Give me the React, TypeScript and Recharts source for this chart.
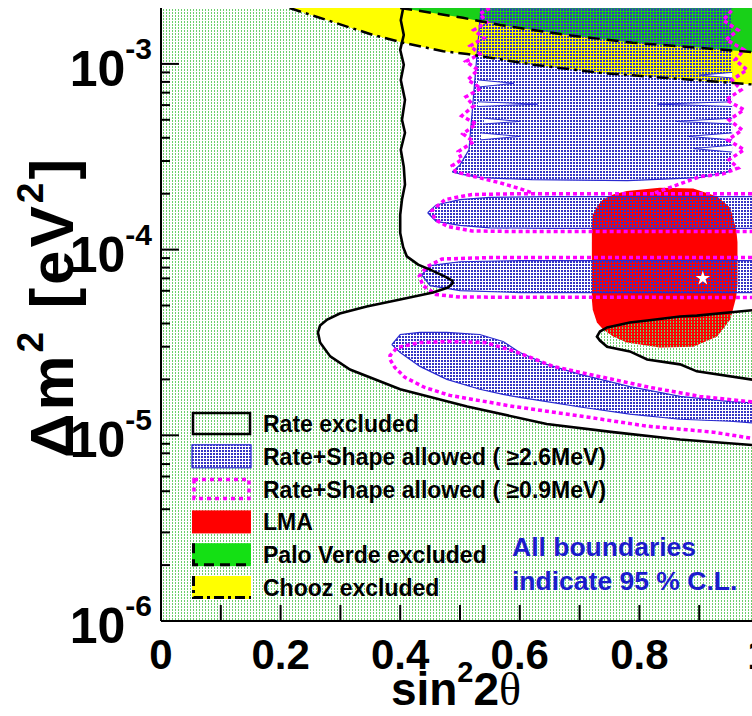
import React from 'react';
import { ComposedChart, Area, Line, XAxis, YAxis, Scatter } from 'recharts';

type R3 = [number, number, number];
type R2 = [number, number];

const Y_MIN = 1e-6;
const Y_MAX = 2e-3;

const X_TICKS = [0, 0.1, 0.2, 0.3, 0.4, 0.5, 0.6, 0.7, 0.8, 0.9, 1];
const X_TICK_LABELS = ['0', '0.2', '0.4', '0.6', '0.8', '1'];
const Y_DECADES = [1e-6, 1e-5, 1e-4, 1e-3];
const Y_DECADE_EXP = ['-6', '-5', '-4', '-3'];
const Y_MINOR_STEPS = [1, 2, 3, 4, 5, 6, 7, 8, 9];

const LEGEND_LABELS = [
  'Rate excluded',
  'Rate+Shape allowed ( \u22652.6MeV)',
  'Rate+Shape allowed ( \u22650.9MeV)',
  'LMA',
  'Palo Verde excluded',
  'Chooz excluded',
];
const NOTE_LINES = ['All boundaries', 'indicate 95 % C.L.'];

// [sin^2 2theta, dm2 low, dm2 high]
const BACKGROUND: R3[] = [[0, 1e-6, 2e-3], [1, 1e-6, 2e-3]];

const RATE_ALLOWED_MAIN: R3[] = [
  [0.2625, 3.58e-5, 3.58e-5], [0.265, 3.24e-5, 3.9e-5], [0.28, 2.73e-5, 4.23e-5],
  [0.3, 2.44e-5, 4.53e-5], [0.33, 2.17e-5, 4.8e-5], [0.36, 1.99e-5, 5.06e-5],
  [0.4, 1.77e-5, 5.38e-5], [0.43, 1.67e-5, 5.64e-5], [0.46, 1.58e-5, 5.94e-5],
  [0.488, 1.5e-5, 6.65e-5], [0.4885, 1.5e-5, 2e-3], [0.52, 1.41e-5, 2e-3],
  [0.6, 1.24e-5, 2e-3], [0.7, 1.09e-5, 2e-3], [0.8, 1.0e-5, 2e-3],
  [0.9, 9.4e-6, 2e-3], [1.0, 8.8e-6, 2e-3],
];
const RATE_ALLOWED_UPPER: R3[] = [
  [0.403, 1.08e-4, 2e-3], [0.411, 9.2e-5, 2e-3], [0.43, 8.3e-5, 2e-3],
  [0.45, 7.8e-5, 2e-3], [0.475, 7.16e-5, 2e-3], [0.4885, 6.6e-5, 2e-3],
];
const RATE_POCKET: R3[] = [
  [0.729, 3.4e-5, 3.4e-5], [0.734, 3.24e-5, 3.62e-5], [0.746, 3.0e-5, 3.81e-5],
  [0.784, 2.83e-5, 4.05e-5], [0.813, 2.56e-5, 4.15e-5], [0.868, 2.41e-5, 4.36e-5],
  [0.896, 2.21e-5, 4.41e-5], [1.0, 1.97e-5, 4.75e-5],
];
const RATE_LINE: R2[] = [
  [0.405, 2.0e-3], [0.401, 1.72e-3], [0.406, 1.43e-3], [0.4, 1.19e-3], [0.406, 9.9e-4],
  [0.401, 8.2e-4], [0.408, 6.4e-4], [0.403, 5.0e-4], [0.408, 4.26e-4], [0.401, 3.45e-4],
  [0.406, 2.79e-4], [0.408, 2.24e-4], [0.403, 1.86e-4], [0.4, 1.54e-4], [0.4, 1.23e-4],
  [0.405, 1.03e-4], [0.411, 9.2e-5], [0.43, 8.3e-5], [0.45, 7.8e-5], [0.475, 7.16e-5],
  [0.487, 6.8e-5], [0.488, 6.6e-5], [0.48, 6.25e-5], [0.455, 5.87e-5], [0.4, 5.38e-5],
  [0.344, 4.94e-5], [0.299, 4.53e-5], [0.278, 4.2e-5], [0.266, 3.9e-5], [0.2625, 3.58e-5],
  [0.266, 3.16e-5], [0.283, 2.66e-5], [0.316, 2.26e-5], [0.4, 1.77e-5], [0.512, 1.43e-5],
  [0.645, 1.15e-5], [0.756, 1.04e-5], [0.868, 9.5e-6], [1.0, 8.8e-6],
];

// excluded-region boundaries: [sin^2 2theta, dm2]
const CHOOZ: R2[] = [
  [0.215, 2.0e-3], [0.355, 1.43e-3], [0.405, 1.3e-3], [0.472, 1.17e-3], [0.512, 1.13e-3],
  [0.622, 9.9e-4], [0.734, 8.95e-4], [0.846, 8.4e-4], [0.957, 7.9e-4], [1.0, 7.7e-4],
];
const PALO_VERDE: R2[] = [
  [0.4, 2.0e-3], [0.455, 1.88e-3], [0.505, 1.77e-3], [0.567, 1.62e-3], [0.679, 1.43e-3],
  [0.789, 1.3e-3], [0.901, 1.22e-3], [1.0, 1.15e-3],
];

const LMA: R3[] = [
  [0.7205, 5.38e-5, 1.36e-4], [0.722, 4.75e-5, 1.54e-4], [0.729, 4.05e-5, 1.7e-4],
  [0.739, 3.72e-5, 1.86e-4], [0.756, 3.4e-5, 1.98e-4], [0.779, 3.16e-5, 2.07e-4],
  [0.834, 2.97e-5, 2.15e-4], [0.89, 3.0e-5, 2.13e-4], [0.93, 3.4e-5, 1.93e-4],
  [0.952, 4.2e-5, 1.68e-4], [0.962, 5.58e-5, 1.28e-4], [0.964, 6.5e-5, 1.1e-4],
];

// Rate+Shape allowed (>= 2.6 MeV) islands
const SHAPE_A: R3[] = [
  [0.487, 2.62e-4, 2.62e-4], [0.5, 2.56e-4, 2.86e-4], [0.515, 2.5e-4, 3.45e-4],
  [0.535, 2.44e-4, 2e-3], [0.62, 2.38e-4, 2e-3], [0.78, 2.35e-4, 2e-3],
  [0.9, 2.44e-4, 2e-3], [0.945, 2.6e-4, 2e-3], [0.955, 2.66e-4, 2e-3],
];
const SHAPE_B: R3[] = [
  [0.446, 1.58e-4, 1.58e-4], [0.46, 1.42e-4, 1.74e-4], [0.5, 1.35e-4, 1.86e-4],
  [0.55, 1.31e-4, 1.91e-4], [0.65, 1.3e-4, 1.93e-4], [1.0, 1.3e-4, 1.93e-4],
];
const SHAPE_C: R3[] = [
  [0.436, 7.3e-5, 7.3e-5], [0.45, 6.4e-5, 8.2e-5], [0.5, 6.02e-5, 8.6e-5],
  [0.6, 5.87e-5, 8.73e-5], [1.0, 5.87e-5, 8.73e-5],
];
const SHAPE_D: R3[] = [
  [0.386, 3.08e-5, 3.08e-5], [0.4, 2.79e-5, 3.49e-5], [0.433, 2.35e-5, 3.58e-5],
  [0.478, 2.0e-5, 3.58e-5], [0.533, 1.77e-5, 3.49e-5], [0.572, 1.66e-5, 3.2e-5],
  [0.6, 1.6e-5, 2.79e-5], [0.645, 1.52e-5, 2.41e-5], [0.701, 1.42e-5, 2.13e-5],
  [0.784, 1.3e-5, 1.83e-5], [0.868, 1.22e-5, 1.62e-5], [0.952, 1.19e-5, 1.52e-5],
  [1.0, 1.16e-5, 1.49e-5],
];
// thin un-allowed slivers cutting into the upper island
const SHAPE_A_GAPS: R3[][] = [
  [[0.53, 7.5e-4, 8.2e-4], [0.59, 7.86e-4, 7.86e-4]],
  [[0.53, 5.9e-4, 6.25e-4], [0.63, 6.07e-4, 6.07e-4]],
  [[0.54, 4.75e-4, 5.1e-4], [0.6, 4.9e-4, 4.9e-4]],
  [[0.535, 3.9e-4, 4.25e-4], [0.6, 4.07e-4, 4.07e-4]],
  [[0.9, 8.7e-4, 8.7e-4], [0.955, 8.4e-4, 9.0e-4]],
  [[0.83, 6.07e-4, 6.07e-4], [0.955, 5.9e-4, 6.25e-4]],
  [[0.86, 4.9e-4, 4.9e-4], [0.955, 4.75e-4, 5.1e-4]],
  [[0.88, 4.07e-4, 4.07e-4], [0.955, 3.9e-4, 4.25e-4]],
  [[0.89, 3.5e-4, 3.5e-4], [0.955, 3.35e-4, 3.65e-4]],
];

// Rate+Shape allowed (>= 0.9 MeV) boundaries
const LOWE_A_LEFT: R2[] = [
  [0.55, 2.0e-3], [0.533, 1.86e-3], [0.545, 1.68e-3], [0.523, 1.52e-3], [0.54, 1.38e-3],
  [0.517, 1.25e-3], [0.533, 1.13e-3], [0.51, 1.03e-3], [0.53, 9.3e-4], [0.513, 8.2e-4],
  [0.535, 7.4e-4], [0.51, 6.65e-4], [0.523, 5.94e-4], [0.503, 5.25e-4], [0.527, 4.75e-4],
  [0.505, 4.2e-4], [0.523, 3.81e-4], [0.497, 3.37e-4], [0.503, 3.05e-4], [0.487, 2.83e-4],
  [0.493, 2.62e-4], [0.525, 2.47e-4], [0.567, 2.29e-4], [0.6, 2.13e-4], [0.625, 2.0e-4],
];
const LOWE_A_RIGHT: R2[] = [
  [0.826, 2.02e-4], [0.868, 2.26e-4], [0.901, 2.47e-4], [0.94, 2.56e-4], [0.965, 2.75e-4],
  [0.95, 3.05e-4], [0.975, 3.45e-4], [0.948, 3.9e-4], [0.972, 4.41e-4], [0.95, 5.0e-4],
  [0.975, 5.66e-4], [0.945, 6.4e-4], [0.97, 7.25e-4], [0.955, 8.2e-4], [0.98, 9.3e-4],
  [0.96, 1.05e-3], [0.975, 1.19e-3], [0.945, 1.35e-3], [0.965, 1.52e-3], [0.94, 1.72e-3],
  [0.955, 1.95e-3],
];
const LOWE_B: R2[] = [
  [1.0, 2.0e-4], [0.6, 2.0e-4], [0.52, 1.98e-4], [0.475, 1.86e-4], [0.453, 1.62e-4],
  [0.458, 1.45e-4], [0.48, 1.33e-4], [0.52, 1.26e-4], [0.6, 1.25e-4], [1.0, 1.25e-4],
];
const LOWE_C: R2[] = [
  [1.0, 9.06e-5], [0.55, 9.06e-5], [0.47, 8.9e-5], [0.445, 8.1e-5], [0.432, 7.2e-5],
  [0.438, 6.4e-5], [0.46, 5.73e-5], [0.5, 5.55e-5], [1.0, 5.52e-5],
];
const LOWE_D: R2[] = [
  [1.0, 1.5e-5], [0.901, 1.62e-5], [0.818, 1.81e-5], [0.734, 2.07e-5], [0.656, 2.35e-5],
  [0.592, 2.83e-5], [0.542, 3.16e-5], [0.483, 3.2e-5], [0.433, 3.16e-5], [0.395, 2.97e-5],
  [0.383, 2.69e-5], [0.383, 2.56e-5], [0.391, 2.32e-5], [0.408, 2.05e-5], [0.441, 1.81e-5],
  [0.483, 1.64e-5], [0.589, 1.43e-5], [0.701, 1.27e-5], [0.813, 1.12e-5], [0.923, 1.04e-5],
  [1.0, 9.5e-6],
];

const BEST_FIT: R2[] = [[0.906, 7.0e-5]];

// ---------- helpers building library data from the arrays ----------
const toRange = (rows: R3[]) => rows.map(([x, lo, hi]) => ({ x, r: [lo, hi] }));
const toTopRange = (rows: R2[]) => rows.map(([x, lo]) => ({ x, r: [lo, Y_MAX] }));
const toPts = (rows: R2[]) => rows.map(([x, y]) => ({ x, y }));
const rangeOutline = (rows: R3[]) =>
  toPts([...rows.slice().reverse().map(([x, , hi]) => [x, hi] as R2), ...rows.map(([x, lo]) => [x, lo] as R2)]);

const Y_TICKS = Y_DECADES.flatMap((d) => Y_MINOR_STEPS.map((m) => d * m)).filter((v) => v < Y_MAX * 0.99);

const FONT = '"Liberation Sans", Arial, Helvetica, sans-serif';
const MAGENTA = '#ff00ff';
const BLUE = '#2a2ad0';

const XTick = (p: any) => {
  const v = p.payload.value;
  const idx = X_TICKS.findIndex((t) => Math.abs(t - v) < 1e-9);
  const label = idx % 2 === 0 ? X_TICK_LABELS[idx / 2] : null;
  return (
    <g>
      <line x1={p.x} x2={p.x} y1={p.y} y2={p.y - 16} stroke="#000" strokeWidth={2} />
      {label !== null && (
        <text x={p.x} y={p.y + 48} textAnchor="middle" fontFamily={FONT} fontWeight={700} fontSize={42} fill="#000">
          {label}
        </text>
      )}
    </g>
  );
};

const YTick = (p: any) => {
  const v = p.payload.value;
  const idx = Y_DECADES.findIndex((d) => Math.abs(d - v) / d < 1e-6);
  const major = idx >= 0;
  return (
    <g>
      <line x1={p.x} x2={p.x + (major ? 18 : 9)} y1={p.y} y2={p.y} stroke="#000" strokeWidth={2} />
      {major && (
        <text x={p.x - 9} y={p.y + 22} textAnchor="end" fontFamily={FONT} fontWeight={700} fontSize={50} fill="#000">
          10
          <tspan fontSize={30} dy={-27}>
            {Y_DECADE_EXP[idx]}
          </tspan>
        </text>
      )}
    </g>
  );
};

const Patterns = ({ p }: { p: string }) => (
  <defs>
    <pattern id={`${p}gdots`} width={3} height={3} patternUnits="userSpaceOnUse">
      <rect width={3} height={3} fill="#ffffff" />
      <rect x={1} y={0} width={1} height={2} fill="#6ccf6c" />
    </pattern>
    <pattern id={`${p}gdotsT`} width={3} height={3} patternUnits="userSpaceOnUse">
      <rect x={1} y={0} width={1} height={2} fill="#6ccf6c" />
    </pattern>
    <pattern id={`${p}bhatch`} width={3} height={3} patternUnits="userSpaceOnUse">
      <rect x={0} y={0} width={2} height={2} fill="#3434c4" />
    </pattern>
  </defs>
);

const areaProps = { type: 'linear' as const, dataKey: 'r', isAnimationActive: false, activeDot: false, dot: false };
const lineProps = { type: 'linear' as const, dataKey: 'y', isAnimationActive: false, activeDot: false, dot: false };

const Overlay = () => {
  const rowY = (i: number) => 412 + i * 32.8;
  const bx = 192;
  const bw = 59;
  const bh = 23;
  return (
    <svg width={752} height={716} style={{ position: 'absolute', left: 0, top: 0, pointerEvents: 'none' }}>
      <Patterns p="lg" />
      {/* axis titles */}
      <text transform="translate(73,307) rotate(-90)" textAnchor="middle" fontFamily={FONT} fontWeight={700} fontSize={62} letterSpacing={3} fill="#000">
        {'\u0394m'}
        <tspan fontSize={37} dy={-30}>2</tspan>
        <tspan dy={30}>{' [eV'}</tspan>
        <tspan fontSize={37} dy={-30}>2</tspan>
        <tspan dy={30}>]</tspan>
      </text>
      <text x={456} y={705} textAnchor="middle" fontFamily={FONT} fontWeight={700} fontSize={46} fill="#000">
        sin
        <tspan fontSize={29} dy={-23}>2</tspan>
        <tspan dy={23}>2</tspan>
        <tspan fontFamily='"Liberation Serif", "DejaVu Serif", serif' fontWeight={400}>{'\u03b8'}</tspan>
      </text>
      {/* legend */}
      {LEGEND_LABELS.map((lab, i) => {
        const y = rowY(i);
        let sw: React.ReactNode = null;
        if (i === 0) sw = <rect x={bx + 1} y={y + 1} width={bw - 2} height={bh - 2} fill="none" stroke="#000" strokeWidth={2.5} />;
        if (i === 1)
          sw = (
            <g>
              <rect x={bx} y={y} width={bw} height={bh} fill="#fff" />
              <rect x={bx} y={y} width={bw} height={bh} fill="url(#lgbhatch)" stroke={BLUE} strokeWidth={1.2} />
            </g>
          );
        if (i === 2)
          sw = <rect x={bx + 2} y={y + 2} width={bw - 4} height={bh - 4} fill="none" stroke={MAGENTA} strokeWidth={3.5} strokeDasharray="4 4" />;
        if (i === 3) sw = <rect x={bx} y={y} width={bw} height={bh} fill="#ff0000" />;
        if (i === 4)
          sw = (
            <g>
              <rect x={bx} y={y} width={bw} height={bh} fill="#14e014" />
              <path d={`M${bx + 1.5},${y} V${y + bh - 1.5} H${bx + bw}`} fill="none" stroke="#000" strokeWidth={3} strokeDasharray="10 6" />
            </g>
          );
        if (i === 5)
          sw = (
            <g>
              <rect x={bx} y={y} width={bw} height={bh} fill="#ffff00" />
              <path d={`M${bx + 1.5},${y} V${y + bh - 1.5} H${bx + bw}`} fill="none" stroke="#000" strokeWidth={3} strokeDasharray="10 4 3 4" />
            </g>
          );
        return (
          <g key={lab}>
            {sw}
            <text x={263} y={y + 20} fontFamily={FONT} fontWeight={700} fontSize={23} fill="#000">
              {lab}
            </text>
          </g>
        );
      })}
      {NOTE_LINES.map((t, i) => (
        <text key={t} x={512} y={556 + i * 34} fontFamily={FONT} fontWeight={700} fontSize={26.5} fill="#1c1ccc">
          {t}
        </text>
      ))}
    </svg>
  );
};

export default function App() {
  return (
    <div style={{ position: 'absolute', left: 0, top: 0, width: 752, height: 716, overflow: 'hidden', background: '#fff' }}>
      <ComposedChart width={800} height={716} margin={{ top: 8, right: 41, bottom: 0, left: 0 }}>
        <Patterns p="ch" />
        <XAxis
          type="number"
          dataKey="x"
          domain={[0, 1]}
          ticks={X_TICKS}
          interval={0}
          tick={XTick}
          tickLine={false}
          tickSize={0}
          tickMargin={0}
          height={95}
          axisLine={{ stroke: '#000', strokeWidth: 2 }}
          allowDataOverflow
        />
        <XAxis
          xAxisId="top"
          orientation="top"
          type="number"
          domain={[0, 1]}
          height={0}
          tick={false}
          tickLine={false}
          axisLine={{ stroke: '#000', strokeWidth: 2 }}
          allowDataOverflow
        />
        <YAxis
          type="number"
          scale="log"
          domain={[Y_MIN, Y_MAX]}
          ticks={Y_TICKS}
          interval={0}
          tick={YTick}
          tickLine={false}
          tickSize={0}
          tickMargin={0}
          width={161}
          axisLine={{ stroke: '#000', strokeWidth: 2 }}
          allowDataOverflow
        />
        {/* rate-excluded background */}
        <Area {...areaProps} data={toRange(BACKGROUND)} fill="url(#chgdots)" fillOpacity={1} stroke="none" />
        {/* rate-allowed (white) */}
        <Area {...areaProps} data={toRange(RATE_ALLOWED_MAIN)} fill="#ffffff" fillOpacity={1} stroke="none" />
        <Area {...areaProps} data={toRange(RATE_ALLOWED_UPPER)} fill="#ffffff" fillOpacity={1} stroke="none" />
        {/* reactor excluded regions */}
        <Area {...areaProps} data={toTopRange(CHOOZ)} fill="#ffff00" fillOpacity={1} stroke="none" />
        <Area {...areaProps} data={toTopRange(PALO_VERDE)} fill="#18d018" fillOpacity={1} stroke="none" />
        {/* LMA */}
        <Area {...areaProps} data={toRange(LMA)} fill="#ff0000" fillOpacity={1} stroke="none" />
        {/* rate-excluded pocket over LMA */}
        <Area {...areaProps} data={toRange(RATE_POCKET)} fill="url(#chgdotsT)" fillOpacity={1} stroke="none" />
        {/* Rate+Shape >= 2.6 MeV */}
        {[SHAPE_A, SHAPE_B, SHAPE_C, SHAPE_D].map((s, i) => (
          <Area key={`s${i}`} {...areaProps} data={toRange(s)} fill="url(#chbhatch)" fillOpacity={1} stroke={BLUE} strokeWidth={1.2} />
        ))}
        {SHAPE_A_GAPS.map((s, i) => (
          <Area key={`g${i}`} {...areaProps} data={toRange(s)} fill="#ffffff" fillOpacity={1} stroke={BLUE} strokeWidth={1} />
        ))}
        {/* Rate+Shape >= 0.9 MeV */}
        {[LOWE_A_LEFT, LOWE_A_RIGHT, LOWE_B, LOWE_C, LOWE_D].map((s, i) => (
          <Line key={`m${i}`} {...lineProps} data={toPts(s)} stroke={MAGENTA} strokeWidth={3.5} strokeDasharray="4 3" />
        ))}
        {/* reactor limits */}
        <Line {...lineProps} data={toPts(CHOOZ)} stroke="#000" strokeWidth={2.5} strokeDasharray="12 5 3 5" />
        <Line {...lineProps} data={toPts(PALO_VERDE)} stroke="#000" strokeWidth={2.5} strokeDasharray="12 7" />
        {/* rate-only contour */}
        <Line {...lineProps} data={toPts(RATE_LINE)} stroke="#000" strokeWidth={2.6} />
        <Line {...lineProps} data={rangeOutline(RATE_POCKET)} stroke="#000" strokeWidth={2.6} />
        <Scatter data={toPts(BEST_FIT)} dataKey="y" fill="#ffffff" shape="star" isAnimationActive={false} />
      </ComposedChart>
      <Overlay />
    </div>
  );
}
